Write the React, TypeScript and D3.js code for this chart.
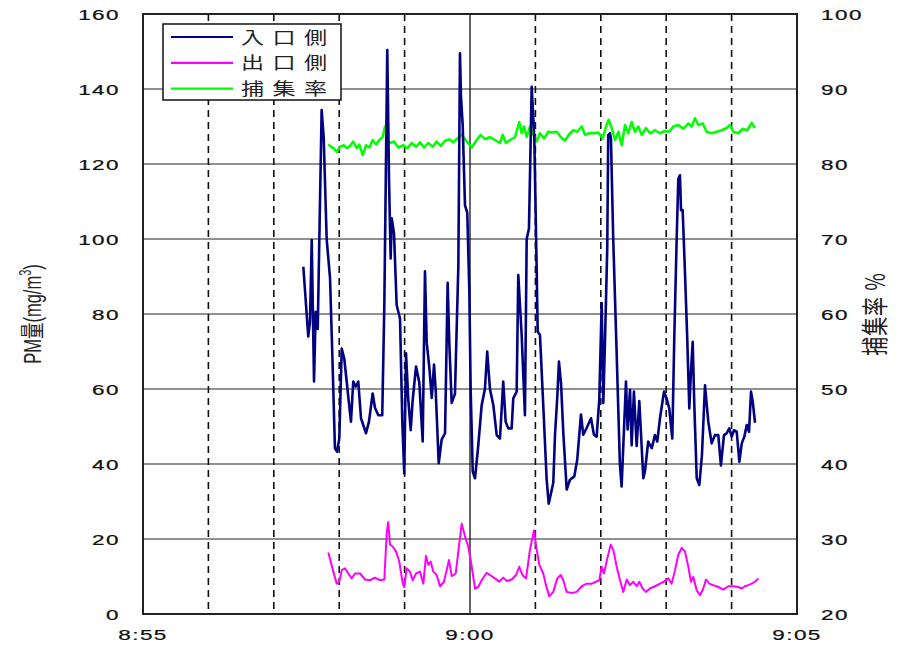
import React from 'react';
import * as d3 from 'd3';

// time in seconds after 8:55:00, value
const inletSeries: [number, number][] = [
  [147.1, 92.6], [151.6, 74], [153.2, 78], [154.8, 99.7], [156.9, 62], [158.4, 80.6], [160.3, 76],
  [163.9, 134.4], [165.8, 127], [168.5, 100], [171.6, 89.5], [173.7, 69], [176.1, 44.2], [178.0, 43.3],
  [180.1, 46.8], [182.3, 70.8], [184.7, 68], [188.3, 58], [190.8, 51.3], [192.9, 62], [195.1, 60.6],
  [197.5, 62], [200.0, 52.2], [204.6, 48.2], [207.3, 51.3], [210.7, 58.8], [212.8, 55], [215.9, 53],
  [219.5, 53], [221.4, 82.4], [224.1, 150.4], [225.7, 116], [227.2, 94.8], [228.2, 105.5], [230.3, 101.5],
  [232.7, 82.4], [235.8, 78.8], [237.9, 51.3], [239.7, 37.5], [241.3, 69.5], [243.4, 57.1], [245.6, 49],
  [247.4, 57], [250.5, 66], [253.5, 61.7], [256.6, 46], [258.7, 91.4], [260.3, 72.3], [262.6, 66],
  [264.9, 57.6], [267.0, 66.5], [268.5, 59.8], [271.3, 40.2], [274.0, 46.5], [277.1, 48.2], [279.5, 88.3],
  [281.0, 72.3], [283.2, 56.3], [286.2, 58.7], [289.3, 92.7], [290.8, 149.5], [291.7, 138], [293.3, 130.4],
  [295.4, 109], [297.5, 107], [299.4, 86], [300.6, 60], [302.5, 38], [304.6, 36.2], [307.6, 45],
  [310.7, 55.7], [313.7, 60], [315.8, 70], [318.3, 60], [321.4, 55.7], [324.5, 47.7], [327.5, 46.8],
  [330.5, 62], [332.7, 51.3], [335.1, 49.5], [338.2, 49.5], [339.7, 57.5], [342.8, 59.3], [344.3, 90.4],
  [347.4, 74.4], [350.4, 53], [352.0, 100], [354.1, 102.8], [356.6, 140.6], [359.0, 127], [361.2, 91.3],
  [362.1, 75.3], [364.2, 74.4], [367.2, 55.7], [370.3, 36], [372.2, 29.4], [376.4, 35], [378.0, 47.8],
  [380.1, 58], [381.6, 67.3], [383.5, 61.6], [385.6, 48.3], [388.7, 33.2], [391.7, 35.8], [395.7, 36.7],
  [398.4, 41.2], [401.8, 53.2], [403.9, 47.8], [407.0, 49.6], [411.0, 52.2], [413.7, 47.8], [416.2, 47.3],
  [418.6, 57.2], [420.8, 82.9], [422.3, 56.3], [423.8, 72.3], [425.9, 97.2], [426.8, 127.7], [428.4, 128.2],
  [429.3, 126.8], [431.4, 100], [434.5, 70], [437.5, 40], [439.1, 34], [443.1, 62], [444.6, 49.2],
  [446.8, 59.8], [448.3, 45], [450.4, 59.3], [452.9, 44.8], [455.3, 56.8], [459.0, 36.2], [460.5, 38],
  [463.5, 46], [466.7, 44.2], [469.7, 47.7], [471.8, 46], [474.3, 52.2], [478.0, 59.3], [480.4, 57.5],
  [482.8, 54.8], [485.6, 46.8], [487.4, 73.5], [489.6, 100], [491.1, 116], [492.6, 117], [493.6, 107.7],
  [495.1, 107.7], [497.2, 91.3], [499.3, 73.5], [501.2, 54.8], [502.7, 64.6], [504.3, 72.6], [505.8, 55.7],
  [508.0, 36.2], [510.4, 34.4], [512.8, 42.4], [515.6, 61], [518.6, 51.3], [521.7, 45.5], [524.7, 47.7],
  [527.8, 47.7], [530.2, 39.6], [533.0, 47.7], [535.5, 48.2], [537.9, 49.5], [540.1, 47.3], [542.2, 49],
  [544.7, 48.6], [547.1, 40.6], [549.3, 45.5], [551.7, 47.3], [553.9, 50.4], [556.0, 48.6], [557.8, 59.3],
  [559.4, 56.6], [561.5, 51],
];

const outletSeries: [number, number][] = [
  [170.0, 16.4], [174.6, 11.3], [177.7, 8.1], [180.1, 8.6], [182.3, 11.7], [185.3, 12.2], [188.3, 10.8],
  [191.5, 9.5], [194.5, 10.8], [199.1, 10.8], [203.7, 9.2], [208.3, 9], [212.8, 9.7], [217.4, 9],
  [221.4, 9.2], [223.6, 21.6], [225.0, 24.5], [226.6, 18.5], [229.1, 18], [232.1, 16.7], [235.1, 14],
  [238.3, 8.1], [239.7, 7.2], [241.9, 12.2], [244.9, 11.3], [247.4, 9], [250.5, 10.8], [254.1, 11.3],
  [257.2, 8.1], [259.6, 15.5], [261.7, 13.1], [263.9, 14], [266.3, 11.3], [269.4, 10.4], [272.5, 7.4],
  [276.1, 8.6], [278.6, 11.7], [280.7, 14.4], [283.2, 10.1], [286.9, 10.8], [289.3, 16.7], [292.4, 24.1],
  [295.4, 20.7], [298.4, 18], [301.6, 12.6], [304.6, 6.8], [307.6, 7.2], [310.7, 9], [315.3, 11],
  [318.3, 10.4], [322.9, 9.5], [326.9, 8.6], [330.5, 9.7], [333.7, 8.8], [338.3, 9.2], [342.2, 10.4],
  [345.2, 12.6], [348.0, 10.4], [351.4, 9.5], [355.0, 17.1], [358.7, 22.3], [361.2, 17.1], [363.6, 13.1],
  [367.2, 10.8], [369.7, 7.7], [372.7, 4.7], [376.4, 5.9], [380.1, 9.5], [383.2, 10.4], [385.6, 9],
  [388.7, 5.9], [393.3, 5.6], [397.9, 5.9], [402.5, 7.4], [407.1, 8.1], [411.6, 8.1], [415.6, 8.6],
  [418.6, 9], [420.8, 12.6], [422.9, 10.8], [426.0, 14.9], [429.1, 18.5], [431.5, 17.1], [434.6, 12.6],
  [437.6, 9], [440.6, 5.9], [443.8, 9.2], [446.8, 7.7], [449.8, 8.6], [452.9, 7.4], [455.3, 8.6],
  [458.4, 6.8], [461.5, 5.9], [465.1, 6.8], [469.7, 7.4], [474.3, 8.1], [478.9, 8.8], [481.9, 9.5],
  [485.0, 8.1], [488.1, 11.7], [491.1, 15.8], [494.2, 17.6], [497.2, 16.7], [500.3, 12.6], [502.7, 8.6],
  [504.8, 9.9], [508.0, 6.3], [511.0, 5], [514.0, 6.8], [516.5, 9.2], [519.5, 8.1], [523.2, 7.7],
  [527.8, 7.2], [532.4, 6.5], [537.0, 7.4], [541.6, 7.4], [546.1, 7.2], [549.3, 6.8], [552.3, 7.4],
  [555.3, 7.7], [558.4, 8.1], [561.5, 8.6], [564.5, 9.5],
];

const captureSeries: [number, number][] = [
  [170.0, 82.6], [174.6, 82.1], [177.7, 81.6], [180.7, 82.3], [184.4, 82.5], [186.9, 82.1], [189.9, 82.4],
  [192.9, 83], [196.1, 82.1], [198.4, 82.6], [201.6, 81.2], [204.6, 82.5], [207.6, 82.2], [210.7, 83.2],
  [213.8, 82.6], [216.8, 83.2], [219.9, 83.6], [222.0, 85], [223.6, 83.4], [226.6, 82.8], [230.3, 83],
  [234.2, 82.2], [238.8, 82.5], [242.5, 82.1], [246.5, 82.8], [250.5, 82.3], [254.1, 82.9], [257.8, 82.2],
  [261.7, 82.8], [265.8, 82.3], [269.4, 83], [273.1, 82.4], [277.1, 83.1], [281.0, 83.3], [284.7, 82.9],
  [288.3, 83.4], [292.4, 83.9], [297.0, 83], [301.6, 82.2], [306.1, 83.2], [309.8, 83.9], [313.8, 83.3],
  [318.3, 83.6], [322.9, 83.2], [327.5, 82.8], [330.0, 83.9], [333.0, 82.8], [336.7, 83.2], [341.3, 83.6],
  [345.2, 85.6], [347.4, 84.1], [349.5, 85], [352.0, 83.6], [355.0, 85], [358.1, 83.9], [361.2, 83],
  [364.2, 84.1], [367.9, 83.4], [371.8, 84.3], [375.9, 84.2], [379.5, 84.3], [383.2, 83.6], [387.1, 83.1],
  [391.1, 84], [394.8, 84.5], [398.4, 84.3], [402.5, 85], [405.5, 83.9], [409.4, 84.1], [413.8, 84.1],
  [417.7, 84.2], [421.7, 83.4], [424.8, 85], [427.2, 85.9], [430.0, 84.8], [433.0, 83.2], [436.1, 84.3],
  [439.2, 82.5], [442.2, 85.2], [445.2, 84.1], [448.3, 85.6], [451.4, 84.3], [454.4, 85], [457.5, 83.9],
  [461.5, 84.8], [465.1, 84.1], [469.7, 84.5], [474.3, 84.1], [478.9, 84.4], [482.8, 84.3], [486.5, 85],
  [491.1, 85.2], [495.7, 84.7], [500.3, 85.4], [503.4, 85], [506.4, 86.1], [509.5, 85.2], [513.5, 85.4],
  [517.1, 84.3], [521.7, 84.1], [526.3, 84.3], [530.9, 84.5], [535.5, 84.8], [538.5, 85.2], [541.6, 84.3],
  [546.1, 84.1], [550.2, 84.7], [554.4, 84.5], [558.4, 85.5], [561.5, 84.8],
];

const leftTicks = [0, 20, 40, 60, 80, 100, 120, 140, 160];
const rightTicks = [20, 30, 40, 50, 60, 70, 80, 90, 100];
const xTickMinutes = [0, 5, 10];
const dashedMinutes = [1, 2, 3, 4, 6, 7, 8, 9];
const legendNames = ['入口側', '出口側', '捕集率'];
const legendColors = ['#000080', '#ff00ff', '#00ff00'];
const leftTitle = 'PM量(mg/m';
const rightTitle = '捕集率 %';

const W = 903, H = 646;
const L = 143, R = 797, T = 14, B = 614;
const SX = 1.45;
const base = new Date(2000, 0, 1, 8, 55, 0).getTime();
const toDate = (s: number) => new Date(base + s * 1000);

export default function App() {
  const x = d3.scaleTime().domain([toDate(0), toDate(600)]).range([L, R]);
  const yL = d3.scaleLinear().domain([0, 160]).range([B, T]);
  const yR = d3.scaleLinear().domain([20, 100]).range([B, T]);
  const fmt = d3.timeFormat('%-H:%M');

  const lineL = d3.line<[number, number]>().x(d => x(toDate(d[0]))).y(d => yL(d[1]));
  const lineR = d3.line<[number, number]>().x(d => x(toDate(d[0]))).y(d => yR(d[1]));

  const numFont = { fontFamily: '"Liberation Sans", Arial, sans-serif', fontSize: 15.5, fill: '#111', letterSpacing: 1, stroke: '#111', strokeWidth: 0.25 } as const;
  const cjkFont = '"Noto Sans CJK JP", "Liberation Sans", sans-serif';

  return (
    <svg width={W} height={H} style={{ position: 'absolute', left: 0, top: 0, background: '#fff' }}>
      <rect x={0} y={0} width={W} height={H} fill="#fff" />
      {/* horizontal grid */}
      {leftTicks.map(t => (
        <line key={'h' + t} x1={L} x2={R} y1={yL(t)} y2={yL(t)} stroke="#222" strokeWidth={1.1} />
      ))}
      {/* dashed minute lines */}
      {dashedMinutes.map(m => (
        <line key={'d' + m} x1={x(toDate(m * 60))} x2={x(toDate(m * 60))} y1={T} y2={B}
          stroke="#111" strokeWidth={1.6} strokeDasharray="7,5" />
      ))}
      <line x1={x(toDate(300))} x2={x(toDate(300))} y1={T} y2={B} stroke="#111" strokeWidth={1.3} />

      {/* series */}
      <path d={lineL(outletSeries) || ''} fill="none" stroke="#ff00ff" strokeWidth={2} strokeLinejoin="round" />
      <path d={lineR(captureSeries) || ''} fill="none" stroke="#00ff00" strokeWidth={2.5} strokeLinejoin="round" />
      <path d={lineL(inletSeries) || ''} fill="none" stroke="#000080" strokeWidth={2.6} strokeLinejoin="round" />

      {/* frame */}
      <rect x={L} y={T} width={R - L} height={B - T} fill="none" stroke="#222" strokeWidth={2} />

      {/* left ticks */}
      {leftTicks.map(t => (
        <text key={'lt' + t} transform={`translate(120,${yL(t) + 5.5}) scale(${SX},1)`} textAnchor="end" style={numFont}>{t}</text>
      ))}
      {rightTicks.map(t => (
        <text key={'rt' + t} transform={`translate(821,${yR(t) + 5.5}) scale(${SX},1)`} textAnchor="start" style={numFont}>{t}</text>
      ))}
      {xTickMinutes.map(m => (
        <text key={'xt' + m} transform={`translate(${x(toDate(m * 60))},640) scale(${SX},1)`} textAnchor="middle" style={numFont}>{fmt(toDate(m * 60))}</text>
      ))}

      {/* axis titles */}
      <text transform={`translate(41,314) scale(${SX},1) rotate(-90)`} textAnchor="middle"
        style={{ fontFamily: '"Liberation Sans", ' + cjkFont, fontSize: 16.5, fill: '#222' }}>
        {leftTitle}<tspan dy={-7} fontSize={11}>3</tspan><tspan dy={7}>)</tspan>
      </text>
      <text transform={`translate(885,314) scale(${SX},1) rotate(-90)`} textAnchor="middle"
        style={{ fontFamily: cjkFont, fontSize: 19, fill: '#222', letterSpacing: 1 }}>
        {rightTitle}
      </text>

      {/* legend */}
      <rect x={163} y={24} width={178} height={76} fill="#fff" stroke="#111" strokeWidth={1.5} />
      {legendNames.map((n, i) => (
        <g key={n}>
          <line x1={171} x2={233} y1={37 + i * 25.8} y2={37 + i * 25.8} stroke={legendColors[i]} strokeWidth={2.2} />
          <text transform={`translate(241,${43.5 + i * 25.8}) scale(1.4,1)`}
            style={{ fontFamily: cjkFont, fontSize: 16.5, fill: '#222', letterSpacing: 6 }}>{n}</text>
        </g>
      ))}
    </svg>
  );
}
